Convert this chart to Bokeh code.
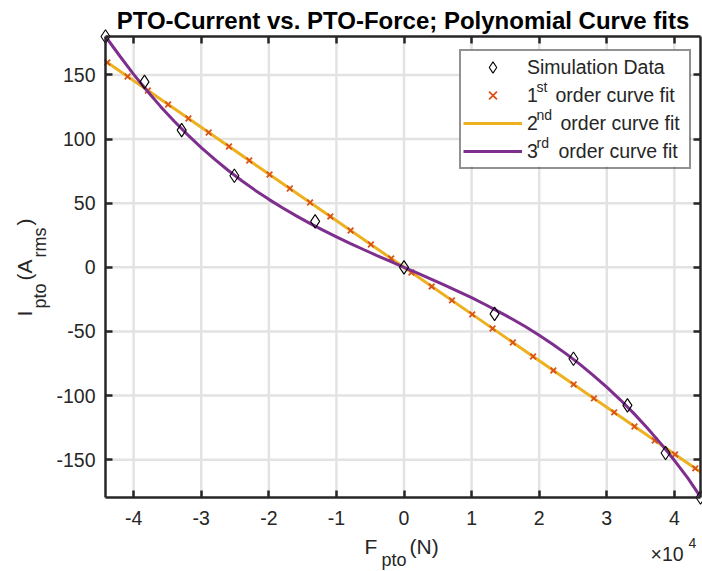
import numpy as np
from bokeh.plotting import figure
from bokeh.models import (Range1d, LinearAxis, FixedTicker, Label, Legend, LegendItem,
                          CustomJSTickFormatter, BoxAnnotation)
from bokeh.embed import file_html
from bokeh.resources import INLINE

# ---------------- data ----------------
# Simulation data: PTO force (N) vs PTO current (A rms)
sim_force = [-44170, -38400, -32900, -25100, -13150, 0, 13400, 25070, 33060, 38700, 43870]
sim_current = [180.0, 144.6, 107.0, 71.4, 35.8, 0.0, -36.3, -71.3, -107.7, -144.8, -179.5]

# 1st order curve fit (x markers)
fit1_force = [-43900, -40900, -37900, -34900, -31900, -28900, -25900, -22900, -19900, -16900,
              -13900, -10900, -7900, -4900, -1900, 1100, 4100, 7100, 10100, 13100,
              16100, 19100, 22100, 25100, 28100, 31100, 34100, 37100, 40100, 43100]
fit1_current = [159.7, 148.8, 137.9, 127.0, 116.1, 105.1, 94.2, 83.3, 72.4, 61.5,
                50.6, 39.7, 28.7, 17.8, 6.9, -4.0, -14.9, -25.8, -36.7, -47.7,
                -58.6, -69.5, -80.4, -91.3, -102.2, -113.1, -124.1, -135.0, -145.9, -156.8]

# 2nd order curve fit (line)
fit2_force = [-44170, -33000, -22000, -11000, 0, 11000, 22000, 33000, 43870]
fit2_current = [160.7, 120.1, 80.0, 40.0, 0.0, -40.0, -80.0, -120.1, -159.6]

# 3rd order curve fit (line)
fit3_force = [-44170, -42000, -40000, -38000, -36000, -34000, -32000, -30000, -28000, -26000,
              -24000, -22000, -20000, -18000, -16000, -14000, -12000, -10000, -8000, -6000,
              -4000, -2000, 0, 2000, 4000, 6000, 8000, 10000, 12000, 14000,
              16000, 18000, 20000, 22000, 24000, 26000, 28000, 30000, 32000, 34000,
              36000, 38000, 40000, 42000, 43870]
fit3_current = [180.0, 164.4, 150.5, 137.5, 125.3, 113.9, 103.3, 93.4, 84.2, 75.5,
                67.5, 60.0, 53.0, 46.4, 40.3, 34.5, 29.0, 23.7, 18.7, 13.9,
                9.2, 4.6, 0.0, -4.6, -9.2, -13.9, -18.7, -23.7, -29.0, -34.5,
                -40.3, -46.4, -53.0, -60.0, -67.5, -75.5, -84.2, -93.4, -103.3, -113.9,
                -125.3, -137.5, -150.5, -164.4, -179.0]

x_ticks = [-40000, -30000, -20000, -10000, 0, 10000, 20000, 30000, 40000]
x_tick_labels = ["-4", "-3", "-2", "-1", "0", "1", "2", "3", "4"]
y_ticks = [-150, -100, -50, 0, 50, 100, 150]
y_tick_labels = ["-150", "-100", "-50", "0", "50", "100", "150"]

title_text = "PTO-Current vs. PTO-Force; Polynomial Curve fits"
legend_labels = ["Simulation Data", "1", "2", "3"]
legend_sups = ["st", "nd", "rd"]
legend_rest = "order curve fit"

# ---------------- styling ----------------
FONT = "Liberation Sans"
AX = "#262626"
C_DATA = "black"
C_FIT1 = "#D95319"
C_FIT2 = "#EDB120"
C_FIT3 = "#7E2F8E"
GRID = "#e3e3e3"

W, H = 702, 571
PL, PR, PT, PB = 105, 700, 36, 497     # plot box in page pixels

xmin, xmax = min(sim_force), max(sim_force)
ymin, ymax = min(sim_current), max(sim_current)
sx = (xmax - xmin) / (PR - PL)
sy = (ymax - ymin) / (PB - PT)
x0_range, x1_range = xmin - PL * sx, xmax + (W - PR) * sx
y0_range, y1_range = ymin - (H - PB) * sy, ymax + PT * sy

# the frame covers the whole page; the axes sit at the data limits
p = figure(width=W, height=H, output_backend="svg", toolbar_location=None,
           x_axis_type=None, y_axis_type=None,
           x_range=Range1d(x0_range, x1_range), y_range=Range1d(y0_range, y1_range),
           min_border=0, background_fill_color="white", border_fill_color="white")
p.outline_line_color = None

xt = FixedTicker(ticks=x_ticks, minor_ticks=[])
yt = FixedTicker(ticks=y_ticks, minor_ticks=[])
blank = CustomJSTickFormatter(code="return ''")


def make_axis(ticker, loc, bounds, overrides=None, standoff=0):
    ax = LinearAxis(ticker=ticker, fixed_location=loc, bounds=bounds,
                    axis_line_color=AX, axis_line_width=2.5,
                    major_tick_in=7, major_tick_out=0,
                    major_tick_line_color=AX, major_tick_line_width=2.5,
                    minor_tick_line_color=None,
                    major_label_text_font=FONT, major_label_text_font_size="19.5px",
                    major_label_text_color=AX, major_label_standoff=standoff)
    if overrides is None:
        ax.formatter = blank
    else:
        ax.major_label_overrides = overrides
    return ax


# grid lines at the tick positions, inside the plot box
p.segment(x0=x_ticks, y0=[ymin] * len(x_ticks), x1=x_ticks, y1=[ymax] * len(x_ticks),
          line_color=GRID, line_width=2.5)
p.segment(x0=[xmin] * len(y_ticks), y0=y_ticks, x1=[xmax] * len(y_ticks), y1=y_ticks,
          line_color=GRID, line_width=2.5)

# ---------------- glyphs ----------------
r2 = p.line(fit2_force, fit2_current, line_color=C_FIT2, line_width=3)
r1 = p.scatter(fit1_force, fit1_current, marker="x", size=8, line_color=C_FIT1, line_width=1.8)
r3 = p.line(fit3_force, fit3_current, line_color=C_FIT3, line_width=3)
r0 = p.scatter(sim_force, sim_current, marker="diamond", size=13.5,
               fill_color=None, line_color=C_DATA, line_width=1.1)

# ---------------- axes (box) ----------------
p.add_layout(make_axis(xt, ymin, (xmin, xmax),
                       {t: l for t, l in zip(x_ticks, x_tick_labels)}, 13), "below")
p.add_layout(make_axis(yt, xmin, (ymin, ymax),
                       {t: l for t, l in zip(y_ticks, y_tick_labels)}, 10), "left")
p.add_layout(make_axis(xt, ymax, (xmin, xmax)), "above")
p.add_layout(make_axis(yt, xmax, (ymin, ymax)), "right")


# ---------------- text helpers (page pixels, from top-left; y = baseline) ----------------
def fy(y):
    return H - y


def px_to_x(px):
    return x0_range + px * sx


def py_to_y(py):
    return y1_range - py * sy


MID = 0.35  # em-box middle above the baseline


def lab(text, x, y, size, angle=0.0, style="normal", color=AX, align="left"):
    if angle == 0.0:
        ym = y - MID * size
        xm = x
    else:   # rotated 90 deg: the text's "up" points to the left
        xm = x - MID * size
        ym = y
    p.add_layout(Label(x=xm, y=fy(ym), x_units="screen", y_units="screen",
                       text=text, text_font=FONT, text_font_size=f"{size}px",
                       text_color=color, text_font_style=style, text_align=align,
                       text_baseline="middle", angle=angle, level="overlay"))


# ---------------- legend ----------------
leg_left, leg_right, leg_top, leg_bottom = 459, 689, 49, 166
pad, row_h = 2, 28

# white legend background (drawn over the grid lines)
p.add_layout(BoxAnnotation(left=px_to_x(leg_left), right=px_to_x(leg_right),
                           top=py_to_y(leg_top), bottom=py_to_y(leg_bottom),
                           fill_color="white", fill_alpha=1.0, line_color=None,
                           level="glyph"))

legend = Legend(items=[LegendItem(label=legend_labels[0], renderers=[r0]),
                       LegendItem(label=legend_labels[1], renderers=[r1]),
                       LegendItem(label=legend_labels[2], renderers=[r2]),
                       LegendItem(label=legend_labels[3], renderers=[r3])],
                location=(leg_left, fy(leg_bottom + 3)), orientation="vertical",
                padding=pad, spacing=0, margin=0,
                glyph_width=59, glyph_height=row_h, label_height=row_h, label_width=160,
                label_standoff=5,
                label_text_font=FONT, label_text_font_size="19.5px", label_text_color=AX,
                border_line_color=AX, border_line_width=2.5,
                background_fill_color="white", background_fill_alpha=0.0)
p.add_layout(legend)

row_centers = [leg_bottom - pad - row_h / 2 - row_h * (3 - i) for i in range(4)]
sup_x = [536, 536, 536]
rest_x = [555, 560, 558]
for i in range(3):
    yc = row_centers[i + 1]
    lab(legend_sups[i], sup_x[i], yc - 3, 14)
    lab(legend_rest, rest_x[i], yc + MID * 19.5, 19.5)

# ---------------- title ----------------
lab(title_text, (PL + PR) / 2, 28, 24, style="bold", color="black", align="center")

# ---------------- axis labels ----------------
# x label: F_pto(N)
lab("F", 364, 553, 21)
lab("pto", 381, 566, 18)
lab("(N)", 409, 553, 21)
# multiplier: x10^4
lab("\u00d710", 650, 560, 19.5)
lab("4", 688, 547, 14)
# y label: I_pto(A_rms), rotated
ang = np.pi / 2
lab("I", 31, 316, 21, ang)
lab("pto", 46, 308, 18, ang)
lab("(A", 31, 280, 21, ang)
lab("rms", 46, 257, 18, ang)
lab(")", 31, 225, 21, ang)

open("out.html", "w").write(file_html(p, INLINE))
